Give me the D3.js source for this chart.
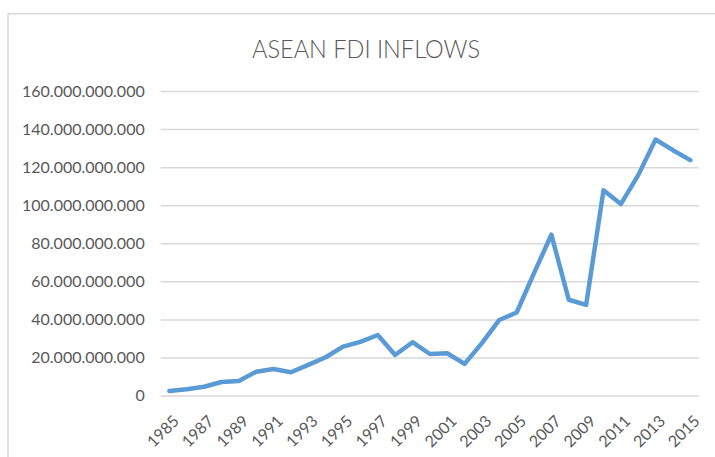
<!DOCTYPE html>
<html>
<head>
<meta charset="utf-8">
<script src="https://cdn.jsdelivr.net/npm/d3@7/dist/d3.min.js"></script>
<style>
  html, body { margin: 0; padding: 0; background: #ffffff; }
  svg { display: block; }
  text { font-family: Lato, "Open Sans", sans-serif; fill: #595959; }
</style>
</head>
<body>
<svg id="chart" width="715" height="457"></svg>
<script>
// ASEAN foreign direct investment inflows, US$, 1985-2015
const years = d3.range(1985, 2016);
const inflows = [
  2.4e9, 3.3e9, 4.6e9, 7.1e9, 7.6e9, 12.5e9, 13.9e9, 12.2e9, 16.1e9, 20.1e9,
  25.7e9, 28.2e9, 31.8e9, 21.3e9, 28.0e9, 21.8e9, 22.2e9, 16.6e9, 27.5e9, 39.7e9,
  43.6e9, 64.3e9, 84.5e9, 50.3e9, 47.6e9, 107.8e9, 100.6e9, 115.8e9, 134.5e9, 128.9e9,
  123.7e9
];
const yTicks = [0, 20e9, 40e9, 60e9, 80e9, 100e9, 120e9, 140e9, 160e9];
const xTickYears = years.filter(y => (y - 1985) % 2 === 0);
const title = "ASEAN FDI INFLOWS";

const svg = d3.select("#chart");
const plot = { left: 160.7, right: 699, top: 91, bottom: 395.5 };

// Chart frame (top and left edges visible)
svg.append("path")
  .attr("d", "M8,457 L8,13.75 L715,13.75")
  .attr("fill", "none")
  .attr("stroke", "#d9d9d9")
  .attr("stroke-width", 1.5);

svg.append("text")
  .attr("x", 366)
  .attr("y", 58)
  .attr("text-anchor", "middle")
  .attr("textLength", 228)
  .attr("lengthAdjust", "spacingAndGlyphs")
  .style("font-size", "25px")
  .style("font-weight", 300)
  .text(title);

const x = d3.scalePoint()
  .domain(years)
  .range([plot.left, plot.right])
  .padding(0.5);

const y = d3.scaleLinear()
  .domain([0, 160e9])
  .range([plot.bottom, plot.top]);

// Number format with dots as thousands separators
const fmt = d3.formatLocale({ decimal: ",", thousands: ".", grouping: [3], currency: ["", ""] }).format(",.0f");

// Horizontal gridlines and value labels
const yAxis = d3.axisLeft(y)
  .tickValues(yTicks)
  .tickFormat(fmt)
  .tickSize(-(plot.right - plot.left))
  .tickPadding(16);

const gy = svg.append("g")
  .attr("transform", `translate(${plot.left},0)`)
  .call(yAxis);
gy.select(".domain").remove();
gy.selectAll(".tick line").attr("stroke", "#d9d9d9").attr("stroke-width", 1.5);
gy.selectAll(".tick text")
  .style("font-size", "16px")
  .attr("fill", "#595959");

// Category axis with rotated year labels
const xAxis = d3.axisBottom(x)
  .tickValues(xTickYears)
  .tickSize(0)
  .tickFormat(d3.format("d"));

const gx = svg.append("g")
  .attr("transform", `translate(0,${plot.bottom})`)
  .call(xAxis);
gx.select(".domain").remove();
gx.selectAll(".tick text")
  .style("font-size", "16px")
  .attr("fill", "#595959")
  .attr("text-anchor", "end")
  .attr("dy", 0)
  .attr("transform", "translate(8,24.5) rotate(-45)");

// Inflows line
const line = d3.line()
  .x((d, i) => x(years[i]))
  .y(d => y(d));

svg.append("path")
  .datum(inflows)
  .attr("fill", "none")
  .attr("stroke", "#5b9bd5")
  .attr("stroke-width", 4.5)
  .attr("stroke-linejoin", "round")
  .attr("stroke-linecap", "round")
  .attr("d", line);
</script>
</body>
</html>
